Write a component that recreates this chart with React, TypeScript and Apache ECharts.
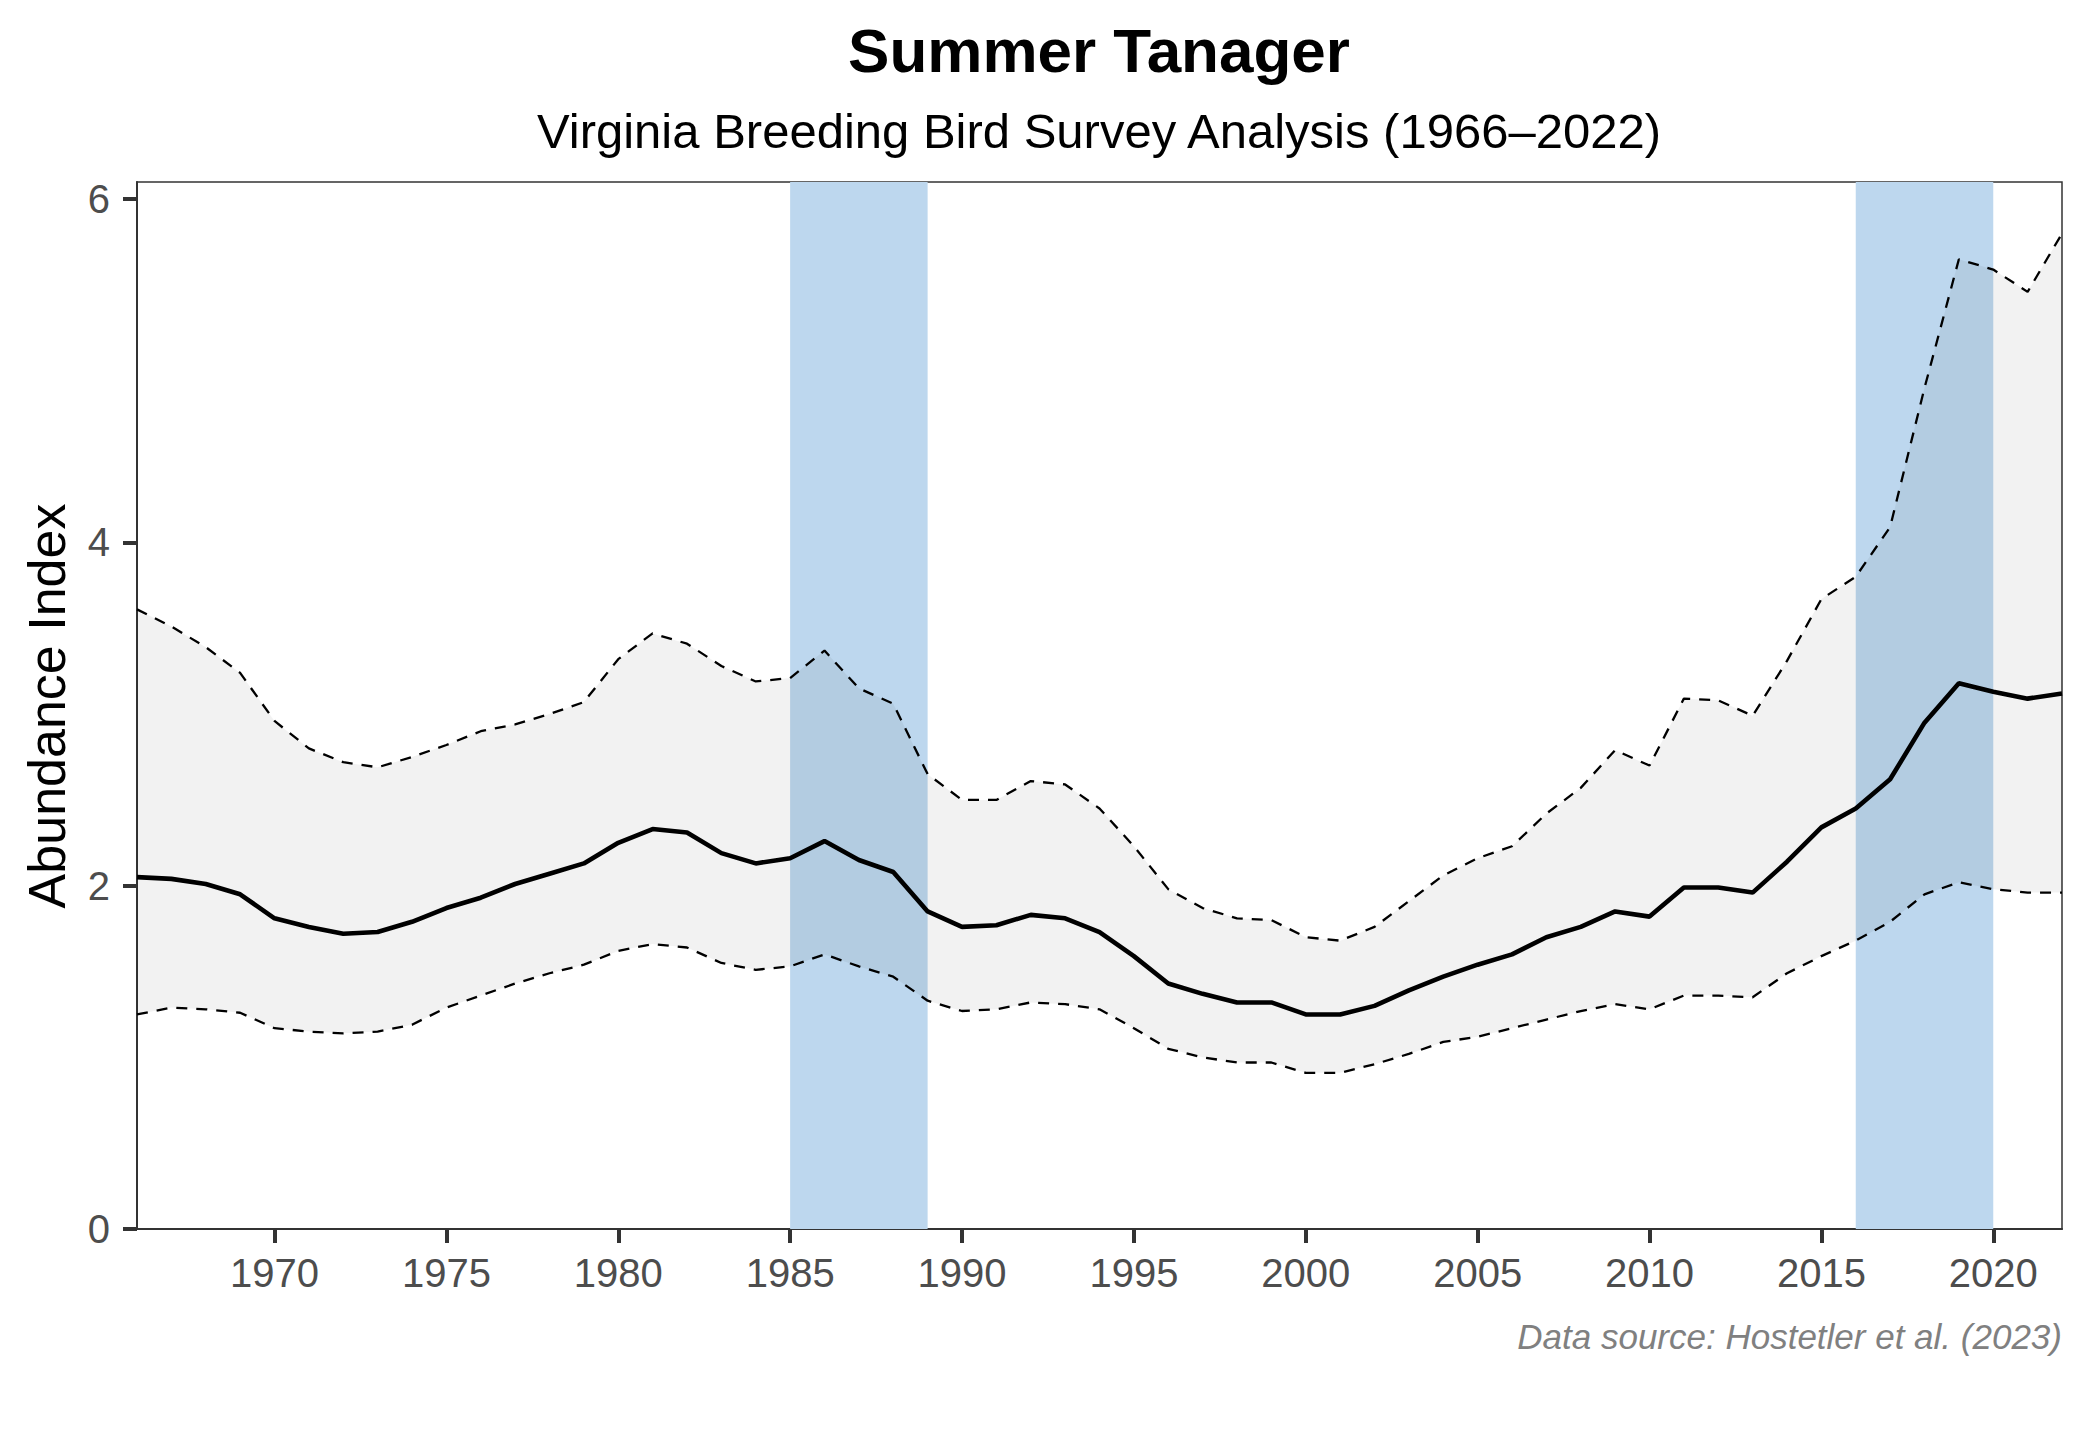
import React, { useEffect, useRef } from "react";
import * as echarts from "echarts";

const years = [
  1966, 1967, 1968, 1969, 1970, 1971, 1972, 1973, 1974, 1975,
  1976, 1977, 1978, 1979, 1980, 1981, 1982, 1983, 1984, 1985,
  1986, 1987, 1988, 1989, 1990, 1991, 1992, 1993, 1994, 1995,
  1996, 1997, 1998, 1999, 2000, 2001, 2002, 2003, 2004, 2005,
  2006, 2007, 2008, 2009, 2010, 2011, 2012, 2013, 2014, 2015,
  2016, 2017, 2018, 2019, 2020, 2021, 2022,
];

const meanIndex = [
  2.05, 2.04, 2.01, 1.95, 1.81, 1.76, 1.72, 1.73, 1.79, 1.87,
  1.93, 2.01, 2.07, 2.13, 2.25, 2.33, 2.31, 2.19, 2.13, 2.16,
  2.26, 2.15, 2.08, 1.85, 1.76, 1.77, 1.83, 1.81, 1.73, 1.59,
  1.43, 1.37, 1.32, 1.32, 1.25, 1.25, 1.30, 1.39, 1.47, 1.54,
  1.60, 1.70, 1.76, 1.85, 1.82, 1.99, 1.99, 1.96, 2.14, 2.34,
  2.45, 2.62, 2.95, 3.18, 3.13, 3.09, 3.12,
];

const upperCI = [
  3.61, 3.51, 3.39, 3.24, 2.96, 2.80, 2.72, 2.69, 2.75, 2.82,
  2.90, 2.94, 3.00, 3.07, 3.32, 3.47, 3.41, 3.28, 3.19, 3.21,
  3.37, 3.15, 3.06, 2.65, 2.50, 2.50, 2.61, 2.59, 2.45, 2.23,
  1.98, 1.87, 1.81, 1.80, 1.70, 1.68, 1.76, 1.91, 2.06, 2.16,
  2.23, 2.42, 2.57, 2.79, 2.70, 3.09, 3.08, 2.99, 3.31, 3.67,
  3.80, 4.09, 4.90, 5.65, 5.59, 5.46, 5.80,
];

const lowerCI = [
  1.25, 1.29, 1.28, 1.26, 1.17, 1.15, 1.14, 1.15, 1.19, 1.29,
  1.36, 1.43, 1.49, 1.54, 1.62, 1.66, 1.64, 1.55, 1.51, 1.53,
  1.60, 1.53, 1.47, 1.33, 1.27, 1.28, 1.32, 1.31, 1.28, 1.17,
  1.05, 1.00, 0.97, 0.97, 0.91, 0.91, 0.96, 1.02, 1.09, 1.12,
  1.17, 1.22, 1.27, 1.31, 1.28, 1.36, 1.36, 1.35, 1.49, 1.59,
  1.68, 1.79, 1.95, 2.02, 1.98, 1.96, 1.96,
];

const bandRanges = [
  [1985, 1989],
  [2016, 2020],
];

const xTickValues = [1970, 1975, 1980, 1985, 1990, 1995, 2000, 2005, 2010, 2015, 2020];
const yTickValues = [0, 2, 4, 6];

const titleText = "Summer Tanager";
const subtitleText = "Virginia Breeding Bird Survey Analysis (1966\u20132022)";
const yAxisTitle = "Abundance Index";
const captionText = "Data source: Hostetler et al. (2023)";

const FONT = "'Liberation Sans', Arial, Helvetica, sans-serif";

export default function App() {
  const ref = useRef<HTMLDivElement>(null);

  useEffect(() => {
    document.body.style.margin = "0";
    const chart = echarts.init(ref.current as HTMLDivElement, null, { renderer: "svg" });
    const pairs = (vals: number[]) => years.map((y, i) => [y, vals[i]]);

    const option: any = {
      animation: false,
      backgroundColor: "#ffffff",
      grid: {
        left: 137,
        right: 18,
        top: 182,
        bottom: 211,
        show: true,
        borderColor: "#333333",
        borderWidth: 1.5,
        backgroundColor: "transparent",
      },
      xAxis: {
        type: "value",
        min: 1966,
        max: 2022,
        axisLine: { show: true, onZero: false, lineStyle: { color: "#333333", width: 2 } },
        axisTick: {
          show: true,
          customValues: xTickValues,
          length: 14,
          lineStyle: { color: "#333333", width: 4 },
        },
        axisLabel: {
          customValues: xTickValues,
          formatter: (v: number) => String(v),
          margin: 24,
          fontSize: 40,
          color: "#4d4d4d",
          fontFamily: FONT,
        },
        splitLine: { show: false },
      },
      yAxis: {
        type: "value",
        min: 0,
        max: 6.1,
        axisLine: { show: true, onZero: false, lineStyle: { color: "#333333", width: 2 } },
        axisTick: {
          show: true,
          customValues: yTickValues,
          length: 14,
          lineStyle: { color: "#333333", width: 4 },
        },
        axisLabel: {
          customValues: yTickValues,
          formatter: (v: number) => String(v),
          margin: 27,
          fontSize: 40,
          color: "#4d4d4d",
          fontFamily: FONT,
        },
        splitLine: { show: false },
      },
      graphic: [
        {
          type: "text",
          x: 1099,
          y: 50,
          style: {
            text: titleText,
            font: `bold 62px ${FONT}`,
            fill: "#000000",
            textAlign: "center",
            textVerticalAlign: "middle",
          },
        },
        {
          type: "text",
          x: 1099,
          y: 131,
          style: {
            text: subtitleText,
            font: `49px ${FONT}`,
            fill: "#000000",
            textAlign: "center",
            textVerticalAlign: "middle",
          },
        },
        {
          type: "text",
          x: 47,
          y: 706,
          rotation: Math.PI / 2,
          style: {
            text: yAxisTitle,
            font: `52px ${FONT}`,
            fill: "#000000",
            textAlign: "center",
            textVerticalAlign: "middle",
          },
        },
        {
          type: "text",
          x: 2062,
          y: 1336,
          style: {
            text: captionText,
            font: `italic 35px ${FONT}`,
            fill: "#808080",
            textAlign: "right",
            textVerticalAlign: "middle",
          },
        },
      ],
      series: [
        {
          name: "bands",
          type: "line",
          z: 1,
          data: pairs(lowerCI),
          symbol: "none",
          lineStyle: { opacity: 0 },
          silent: true,
          markArea: {
            silent: true,
            itemStyle: { color: "#bdd7ee" },
            data: bandRanges.map((r) => [{ xAxis: r[0] }, { xAxis: r[1] }]),
          },
        },
        {
          name: "ribbon",
          type: "custom",
          z: 2,
          silent: true,
          data: [[years[0], lowerCI[0]]],
          renderItem: (params: any, api: any) => {
            const top = years.map((y, i) => api.coord([y, upperCI[i]]));
            const bottom = years.map((y, i) => api.coord([y, lowerCI[i]])).reverse();
            return {
              type: "polygon",
              shape: { points: top.concat(bottom) },
              style: { fill: "rgba(0,0,0,0.05)", stroke: "none" },
            };
          },
        },
        {
          name: "lower",
          type: "line",
          z: 3,
          data: pairs(lowerCI),
          symbol: "none",
          lineStyle: { color: "#000000", width: 2.3, type: [11, 9] },
        },
        {
          name: "upper",
          type: "line",
          z: 3,
          data: pairs(upperCI),
          symbol: "none",
          lineStyle: { color: "#000000", width: 2.3, type: [11, 9] },
        },
        {
          name: "mean",
          type: "line",
          z: 4,
          data: pairs(meanIndex),
          symbol: "none",
          lineStyle: { color: "#000000", width: 4.6 },
        },
      ],
    };

    chart.setOption(option);
    return () => chart.dispose();
  }, []);

  return <div ref={ref} style={{ width: 2080, height: 1440 }} />;
}
